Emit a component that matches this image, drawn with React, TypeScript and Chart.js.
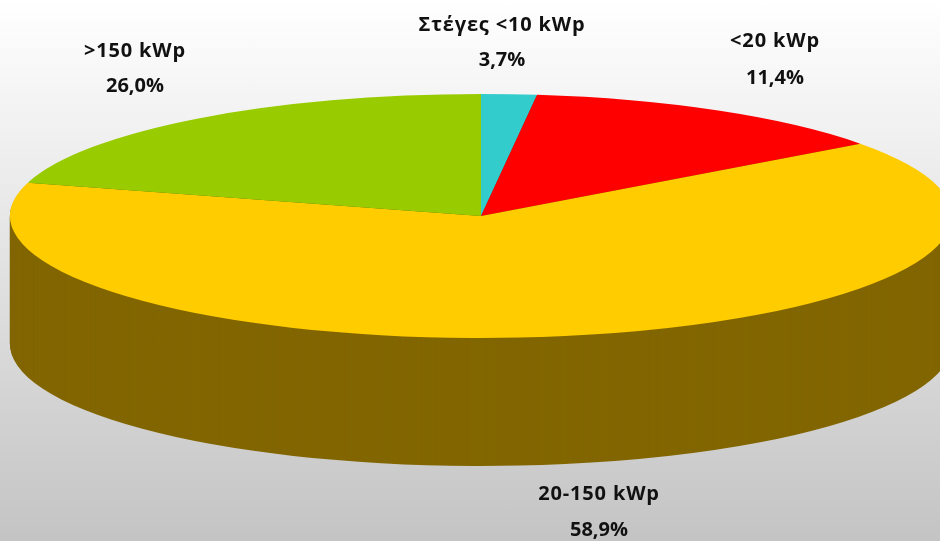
import React, { useEffect, useRef } from "react";
import { Chart, registerables } from "chart.js";

Chart.register(...registerables);

// Printed labels, as they appear in the reference.
const categories = ["Στέγες <10 kWp", "<20 kWp", "20-150 kWp", ">150 kWp"];
const printedValues = ["3,7%", "11,4%", "58,9%", "26,0%"];
// The reference's drawing does not agree with its printed percentages.
const drawnShares = [1.9, 13.0, 64.5, 20.6];
const topColors = ["#33CCCC", "#FF0000", "#FFCC00", "#99CC00"];
const wallColors = ["#1A6666", "#800000", "#826600", "#4D6600"];
const labelCenters = [
  [502, 25, 60],
  [775, 41, 78],
  [599, 494, 530],
  [135, 51, 86],
];

const CX = 481;
const CY = 216;
const RX = 471;
const RY = 122;
const DEPTH = 128;

const squash = (ctx: CanvasRenderingContext2D, chart: any, dy: number) => {
  const el = chart.getDatasetMeta(0).data[0];
  const s = el.outerRadius;
  ctx.translate(CX, CY + dy);
  ctx.scale(RX / s, RY / s);
  ctx.translate(-el.x, -el.y);
};

const tiltPlugin = {
  id: "tilt",
  beforeDatasetsDraw(chart: any) {
    const ctx = chart.ctx;
    const arcs = chart.getDatasetMeta(0).data;
    for (let d = DEPTH; d > 0; d--) {
      ctx.save();
      squash(ctx, chart, d);
      arcs.forEach((arc: any, i: number) => {
        const saved = arc.options;
        arc.options = { ...saved, backgroundColor: wallColors[i], borderWidth: 0 };
        arc.draw(ctx);
        arc.options = saved;
      });
      ctx.restore();
    }
    ctx.save();
    squash(ctx, chart, 0);
  },
  afterDatasetsDraw(chart: any) {
    chart.ctx.restore();
  },
  afterDraw(chart: any) {
    const ctx = chart.ctx;
    ctx.save();
    ctx.fillStyle = "#111111";
    ctx.textAlign = "center";
    ctx.textBaseline = "middle";
    ctx.font = "bold 20px 'Open Sans'";
    categories.forEach((name, i) => {
      const [x, y1, y2] = labelCenters[i];
      ctx.letterSpacing = "0.85px";
      ctx.fillText(name, x, y1);
      ctx.letterSpacing = "0px";
      ctx.fillText(printedValues[i], x, y2);
    });
    ctx.restore();
  },
};

export default function App() {
  const ref = useRef<HTMLCanvasElement | null>(null);
  useEffect(() => {
    document.body.style.margin = "0";
    const chart = new Chart(ref.current as HTMLCanvasElement, {
      type: "pie",
      data: {
        labels: categories,
        datasets: [
          {
            data: drawnShares,
            backgroundColor: topColors,
            borderWidth: 0,
            clip: false,
          } as any,
        ],
      },
      options: {
        responsive: false,
        animation: false,
        rotation: 0,
        plugins: { legend: { display: false }, tooltip: { enabled: false } },
      },
      plugins: [tiltPlugin],
    });
    return () => chart.destroy();
  }, []);
  return (
    <div
      style={{
        width: 940,
        height: 541,
        overflow: "hidden",
        background: "linear-gradient(to bottom, #ffffff 0%, #c4c4c4 100%)",
      }}
    >
      <canvas ref={ref} width={940} height={541} style={{ display: "block" }} />
    </div>
  );
}
